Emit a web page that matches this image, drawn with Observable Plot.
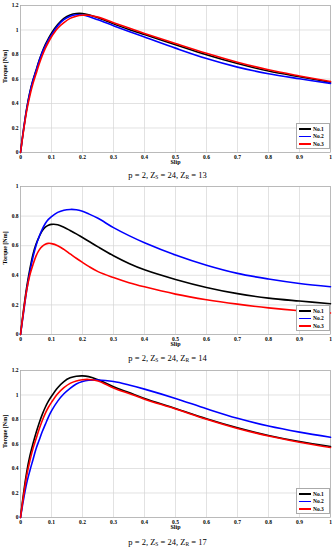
<!DOCTYPE html>
<html><head><meta charset="utf-8">
<script src="https://cdn.jsdelivr.net/npm/d3@7"></script>
<script src="https://cdn.jsdelivr.net/npm/@observablehq/plot@0.6"></script>
<style>
body{margin:0;background:#fff;width:335px;font-family:"Liberation Serif","Times New Roman",serif;}
.panel{position:relative;width:335px;}
.panel svg{display:block;}
.cap{text-align:center;font-size:8.5px;color:#000;white-space:nowrap;}
.cap sub{font-size:5.5px;vertical-align:-1px;line-height:0;}
.leg{position:absolute;right:5px;bottom:21px;width:34px;height:26px;background:#fff;border:1px solid #aaa;box-sizing:border-box;padding-top:1px;}
.row{display:flex;align-items:center;height:7.6px;font-size:5.5px;font-weight:bold;}
.row i{display:inline-block;width:12px;height:1.6px;margin:0 2px 0 2px;}
</style>
</head><body>
<div id="root"></div>
<script>
// ---- data ----
const seriesNames = ["No.1", "No.2", "No.3"];
const seriesColors = ["#000000", "#0000ff", "#ff0000"];
const xTicks = [0, 0.1, 0.2, 0.3, 0.4, 0.5, 0.6, 0.7, 0.8, 0.9, 1];
const yTicks12 = [0, 0.2, 0.4, 0.6, 0.8, 1, 1.2];
const yTicks10 = [0, 0.2, 0.4, 0.6, 0.8, 1];
const captions = ["13", "14", "17"];

const slip = [0, 0.01, 0.02, 0.03, 0.04, 0.05, 0.06, 0.07, 0.08, 0.09, 0.1, 0.12, 0.14, 0.16, 0.18, 0.2, 0.22, 0.25, 0.3, 0.35, 0.4, 0.5, 0.6, 0.7, 0.8, 0.9, 1];

// Panel 1: p = 2, Zs = 24, Zr = 13
const p1No1 = [0, .19, .36, .49, .59, .67, .75, .82, .88, .93, .975, 1.045, 1.095, 1.123, 1.135, 1.135, 1.125, 1.1, 1.05, 1.005, .963, .88, .798, .726, .665, .618, .574];
const p1No2 = [0, .19, .355, .485, .585, .665, .745, .815, .87, .92, .96, 1.035, 1.085, 1.113, 1.124, 1.122, 1.11, 1.083, 1.035, .988, .943, .852, .767, .697, .643, .602, .564];
const p1No3 = [0, .18, .34, .46, .56, .64, .72, .79, .85, .9, .945, 1.015, 1.06, 1.095, 1.113, 1.12, 1.12, 1.105, 1.06, 1.016, .972, .89, .81, .737, .675, .625, .579];

// Panel 2: p = 2, Zs = 24, Zr = 14
const p2No1 = [0, .17, .32, .44, .54, .61, .66, .70, .725, .738, .744, .742, .725, .703, .68, .655, .63, .592, .532, .48, .437, .372, .318, .276, .246, .226, .208];
const p2No2 = [0, .15, .30, .42, .52, .60, .66, .71, .75, .778, .797, .825, .84, .845, .843, .832, .815, .785, .722, .668, .62, .537, .468, .413, .375, .345, .323];
const p2No3 = [0, .16, .30, .40, .47, .53, .57, .595, .61, .616, .614, .60, .575, .545, .515, .487, .46, .425, .385, .35, .322, .273, .235, .205, .18, .16, .145];

// Panel 3: p = 2, Zs = 24, Zr = 17
const p3No1 = [0, .2, .37, .5, .6, .69, .77, .84, .9, .95, .99, 1.06, 1.11, 1.14, 1.153, 1.156, 1.15, 1.125, 1.068, 1.02, .972, .89, .806, .732, .67, .62, .58];
const p3No2 = [0, .15, .28, .38, .47, .56, .63, .70, .76, .82, .87, .95, 1.01, 1.055, 1.09, 1.11, 1.12, 1.123, 1.11, 1.082, 1.048, .972, .888, .81, .747, .697, .655];
const p3No3 = [0, .18, .34, .46, .56, .64, .72, .79, .85, .9, .94, 1.01, 1.06, 1.095, 1.115, 1.125, 1.127, 1.115, 1.058, 1.012, .966, .886, .802, .727, .665, .615, .572];

// ---- drawing ----
const fmt = d => String(d);
function table(list) {
  return list.flatMap((vals, k) => slip.map((s, i) => ({slip: s, torque: vals[i], series: seriesNames[k]})));
}
function makePanel(list, yMax, yTicks, height, marginTop, capHeight, zr) {
  const wrap = document.createElement("div");
  wrap.className = "panel";
  const chart = Plot.plot({
    width: 335, height, marginTop, marginBottom: 18, marginLeft: 20, marginRight: 5,
    style: {fontFamily: "'Liberation Serif', serif", fontSize: "5.5px", fontWeight: "bold", background: "#fff", color: "#000"},
    x: {domain: [0, 1], ticks: xTicks, tickFormat: fmt, tickSize: 0, tickPadding: 2.5, label: null},
    y: {domain: [0, yMax], ticks: yTicks, tickFormat: fmt, tickSize: 0, tickPadding: 2, label: null},
    color: {domain: seriesNames, range: seriesColors},
    marks: [
      Plot.gridX(xTicks, {stroke: "#d6d6d6", strokeOpacity: 1, strokeWidth: 0.7}),
      Plot.gridY(yTicks, {stroke: "#d6d6d6", strokeOpacity: 1, strokeWidth: 0.7}),
      Plot.frame({stroke: "#aaa", strokeWidth: 0.7}),
      Plot.line(table(list), {x: "slip", y: "torque", z: "series", stroke: "series", strokeWidth: 1.6, curve: "catmull-rom"}),
      Plot.text(["Slip"], {text: d => d, frameAnchor: "bottom", dy: 11, fontSize: 6, fontWeight: "bold"}),
      Plot.text(["Torque [Nm]"], {text: d => d, frameAnchor: "left", dx: -15, dy: 4, rotate: -90, fontSize: 6, fontWeight: "bold"})
    ]
  });
  wrap.appendChild(chart);
  const leg = document.createElement("div");
  leg.className = "leg";
  leg.innerHTML = seriesNames.map((n, k) => `<div class="row"><i style="background:${seriesColors[k]}"></i>${n}</div>`).join("");
  wrap.appendChild(leg);
  const cap = document.createElement("div");
  cap.className = "cap";
  cap.style.height = capHeight + "px";
  cap.style.lineHeight = capHeight + "px";
  cap.innerHTML = `p = 2, Z<sub>S</sub> = 24, Z<sub>R</sub> = ${zr}`;
  const root = document.getElementById("root");
  root.appendChild(wrap);
  root.appendChild(cap);
}
makePanel([p1No1, p1No2, p1No3], 1.2, yTicks12, 170, 5, 10, captions[0]);
makePanel([p2No1, p2No2, p2No3], 1, yTicks10, 172, 6, 13, captions[1]);
makePanel([p3No1, p3No2, p3No3], 1.2, yTicks12, 170, 5, 15, captions[2]);
</script>
</body></html>
